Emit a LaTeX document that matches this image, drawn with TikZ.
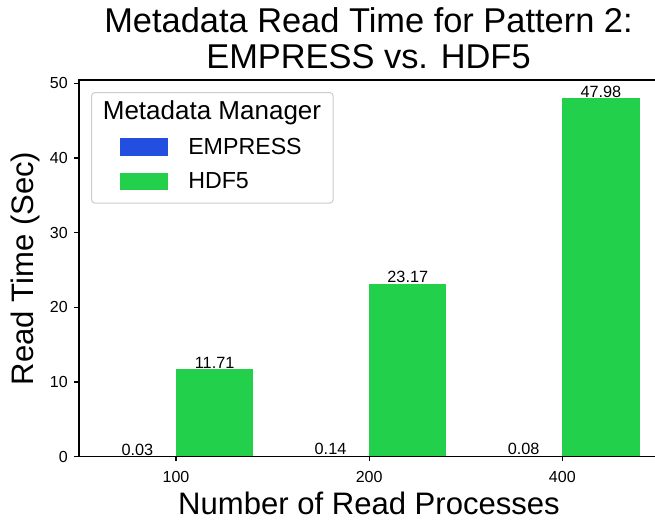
\documentclass[tikz,border=0pt]{standalone}
\usepackage{fontspec}
\setmainfont{Liberation Sans}
\definecolor{empress}{HTML}{224FDF}
\definecolor{hdf}{HTML}{22D04C}
\definecolor{legendedge}{HTML}{CCCCCC}
\begin{document}
\begin{tikzpicture}[x=0.75pt,y=-0.75pt,
  spine/.style={line width=0.8pt,line cap=rect},
  tickmark/.style={line width=0.8pt},
  ticklbl/.style={inner sep=0pt,font=\fontsize{12}{14}\selectfont},
  barlbl/.style={inner sep=0pt,anchor=base,font=\fontsize{12.2}{14}\selectfont},
  axlbl/.style={inner sep=0pt,anchor=base,font=\fontsize{23.3}{28}\selectfont},
  titlelbl/.style={inner sep=0pt,anchor=base,font=\fontsize{25.8}{31}\selectfont},
  legtitle/.style={inner sep=0pt,anchor=base,font=\fontsize{19.5}{23}\selectfont},
  legentry/.style={inner sep=0pt,anchor=base west,font=\fontsize{17.4}{21}\selectfont}]
\useasboundingbox (0,0) rectangle (655,520);

% bars: groups at 100, 200, 400 read processes
\foreach \i/\e/\h in {0/0.03/11.71, 1/0.14/23.17, 2/0.08/47.98}{
  \pgfmathsetmacro{\xc}{176+193.15*\i}
  \fill[empress] ({\xc-77.26},456.7) rectangle (\xc,{456.7-7.468*\e});
  \fill[hdf] (\xc,456.7) rectangle ({\xc+77.26},{456.7-7.468*\h});
  \node[barlbl] (le\i) at ({\xc-38.63},{456.7-7.468*\e-1.2}) {\e};
  \node[barlbl] (lh\i) at ({\xc+38.63},{456.7-7.468*\h-1.2}) {\h};
}

% axes frame
\draw[spine] (79,80) -- (79,456.7);
\draw[spine] (79,456.7) -- (655,456.7);
\draw[spine] (79,80) -- (655,80);

% y ticks
\foreach \v in {0,10,20,30,40,50}{
  \draw[tickmark] (79,{456.7-7.468*\v}) -- (74.3,{456.7-7.468*\v});
  \node[ticklbl,anchor=east] (yt\v) at (68,{456.7-7.468*\v}) {\v};
}

% x ticks
\foreach \i/\n in {0/100, 1/200, 2/400}{
  \pgfmathsetmacro{\xc}{176+193.15*\i}
  \draw[tickmark] (\xc,456.7) -- (\xc,461.4);
  \node[ticklbl,anchor=base] (xt\n) at (\xc,482) {\n};
}

% axis labels and title
\node[axlbl] (xlabel) at (369,514) {Number of Read Processes};
\node[axlbl,rotate=90] (ylabel) at (33,268.5) {Read Time (Sec)};
\node[titlelbl] (title1) at (368.5,33) {Metadata Read Time for Pattern 2:};
\node[titlelbl] (title2) at (368.5,69) {EMPRESS vs. HDF5};

% legend
\draw[rounded corners=2.2pt,fill=white,fill opacity=0.8,draw=legendedge,line width=0.75pt]
  (91.7,92.7) rectangle (333,203);
\node[legtitle] (legtitle) at (212,120) {Metadata Manager};
\fill[empress] (119.5,138.3) rectangle (167.7,155.7);
\fill[hdf] (119.5,173.3) rectangle (167.7,189.5);
\node[legentry] (legE) at (188,155) {EMPRESS};
\node[legentry] (legH) at (188,189) {HDF5};
\end{tikzpicture}
\end{document}
